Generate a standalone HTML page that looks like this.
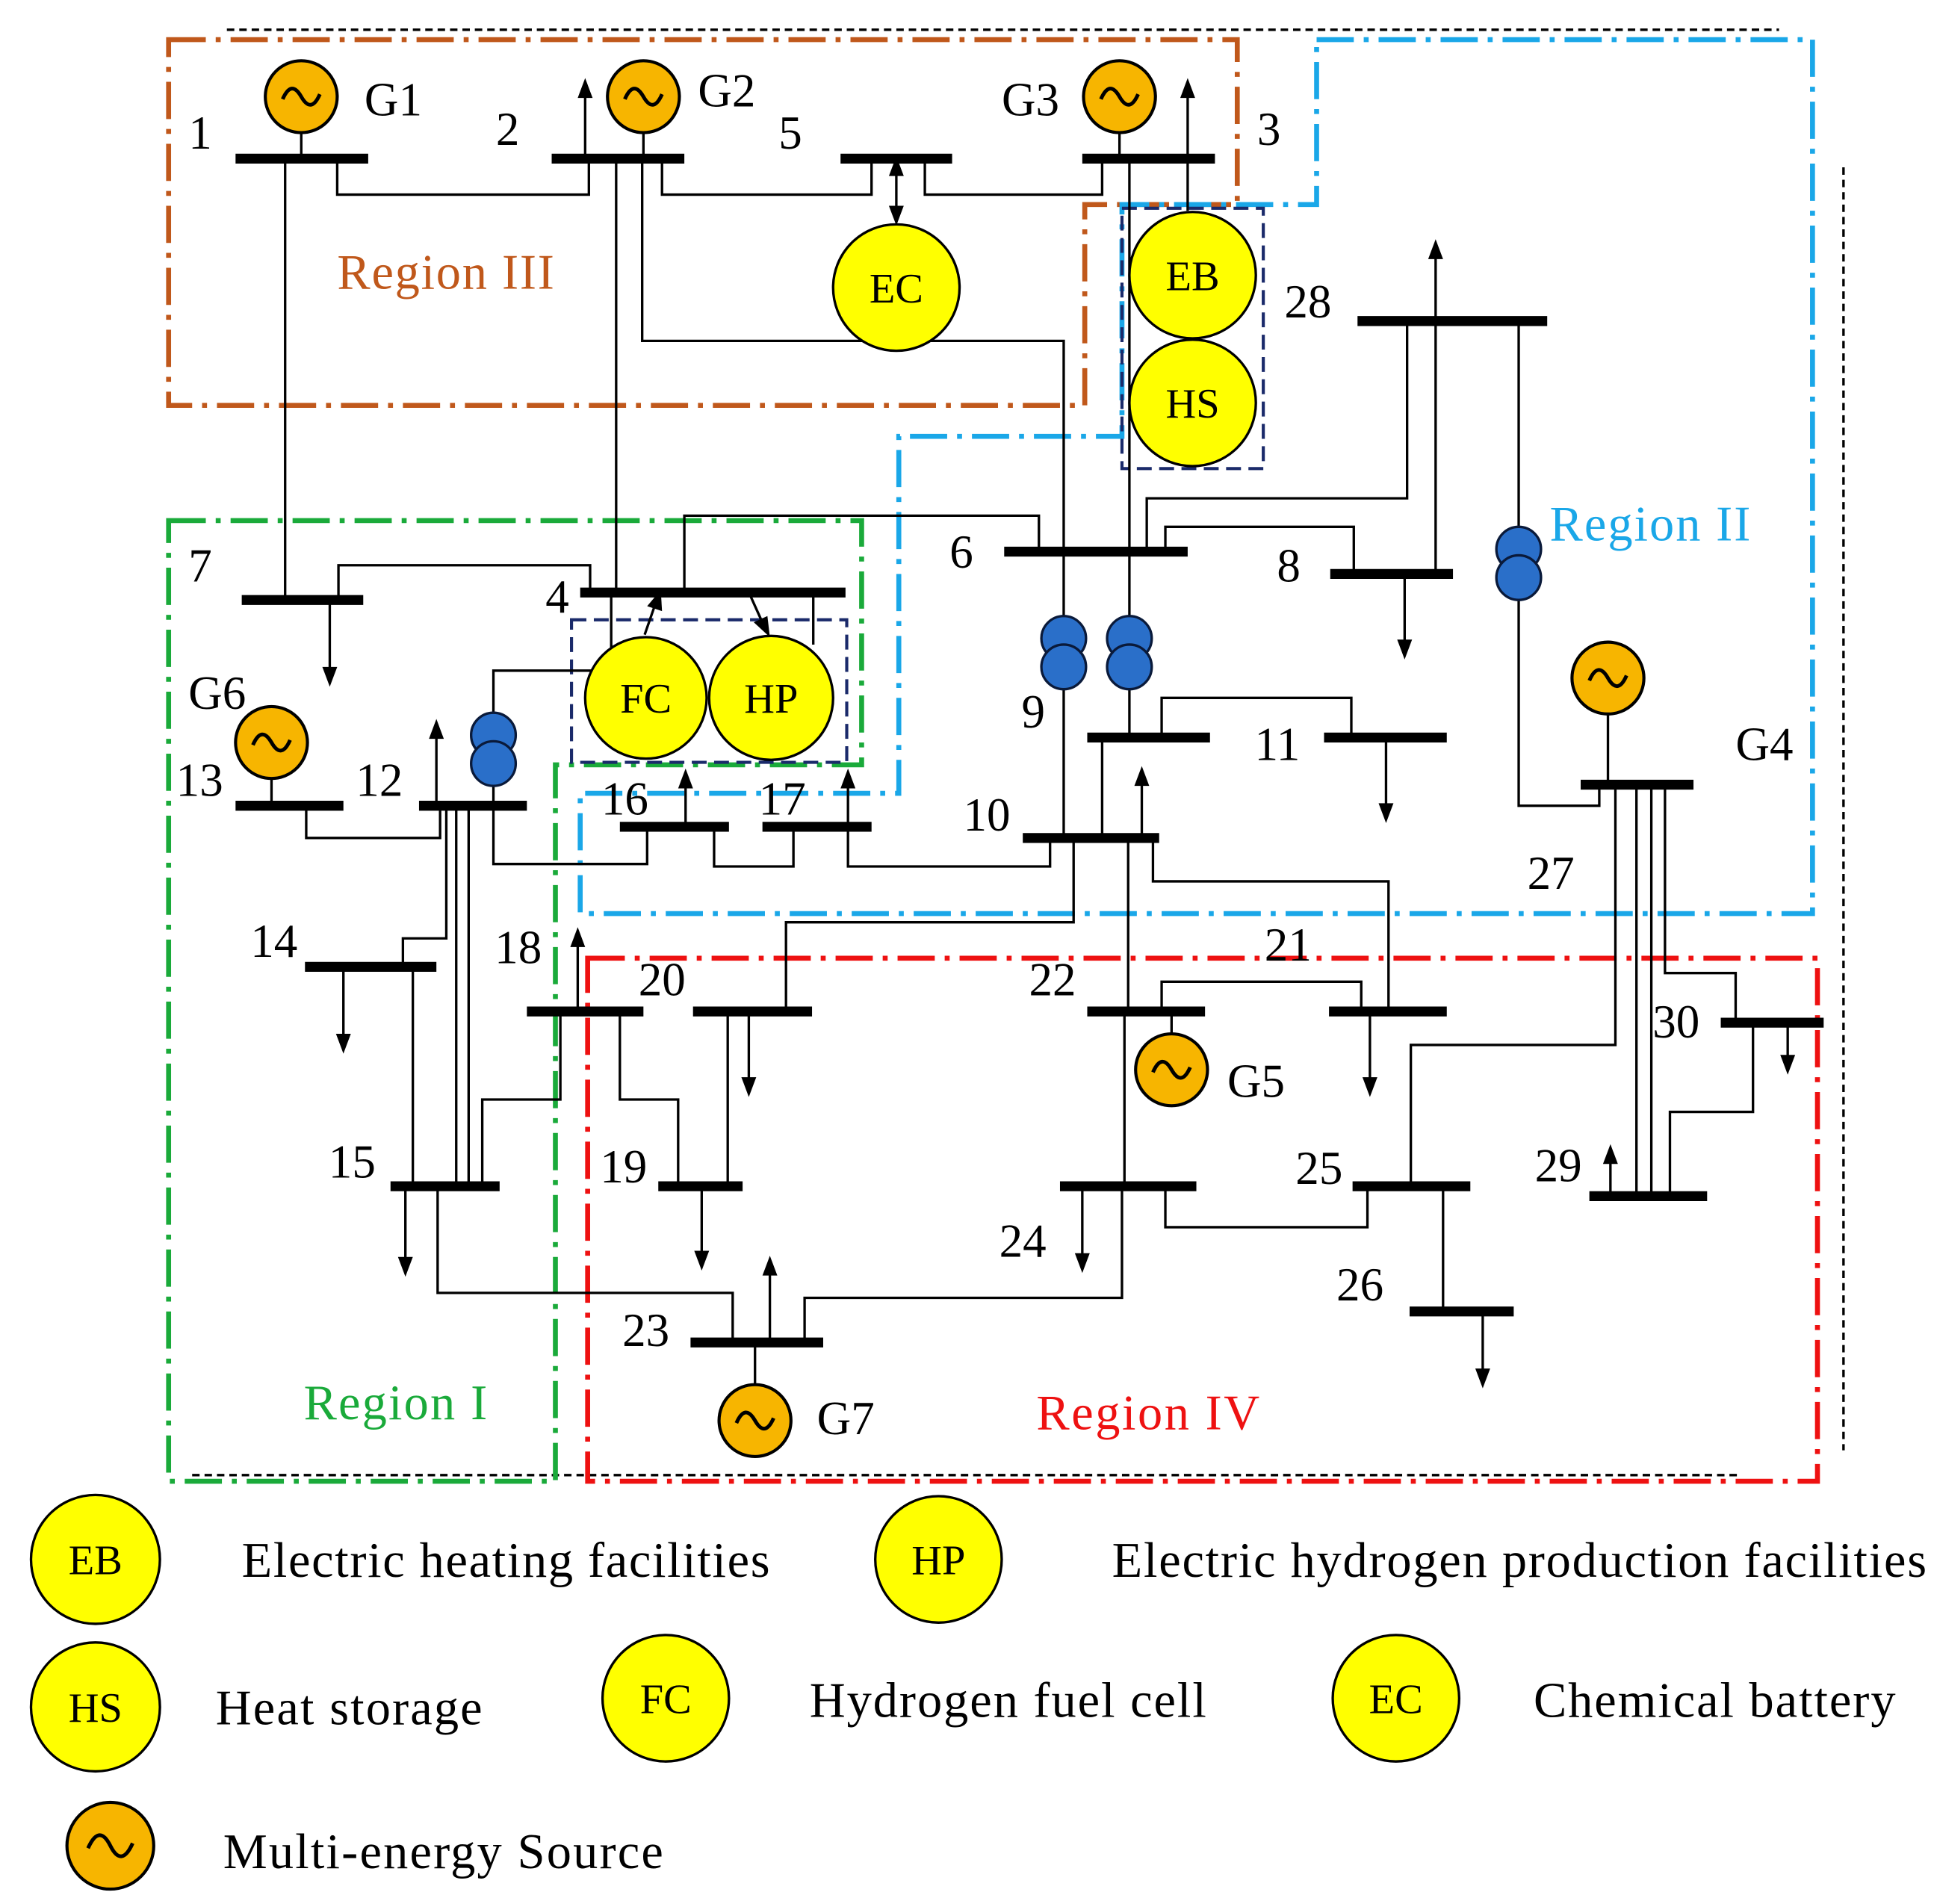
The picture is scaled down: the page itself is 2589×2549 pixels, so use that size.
<!DOCTYPE html>
<html><head><meta charset="utf-8"><style>html,body{margin:0;padding:0;background:#fff}svg{display:block}</style></head>
<body>
<svg width="2589" height="2549" viewBox="0 0 1560 1536" preserveAspectRatio="none" xmlns="http://www.w3.org/2000/svg" font-family="Liberation Serif, serif">
<style>
.ln{stroke:#000;stroke-width:2;fill:none}
.bus{stroke:#000;stroke-width:8}
.lbl{font-size:38px;fill:#000}
</style>

<!-- outer thin black dashed -->
<g stroke="#000" stroke-width="2" stroke-dasharray="6,4" fill="none">
<path d="M183,24 H1435"/><path d="M1487,135 V1170"/><path d="M155,1190 H1405"/>
</g>
<!-- regions -->
<g fill="none" stroke-width="4" stroke-dasharray="30,8,4,8">
<path d="M136,32 H998 V165 H875 V327 H136 Z" stroke="#c0581b"/>
<path d="M1062,32 H1462 V737 H468 V640 H725 V352 H905 V165 H1062 Z" stroke="#1aa7e8"/>
<path d="M136,420 H695 V617 H448 V1195 H136 Z" stroke="#1aaa3a"/>
<path d="M474,773 H1466 V1195 H474 Z" stroke="#ee1111"/>
</g>
<g fill="none" stroke="#1a2a6a" stroke-width="2.5" stroke-dasharray="12,6">
<rect x="905" y="168" width="114" height="210"/>
<rect x="461" y="500" width="222" height="115"/>
</g>

<!-- connection lines -->
<g class="ln">
<path d="M272,128 V157 H475 V128"/>
<path d="M230,128 V484"/>
<path d="M497,128 V478"/>
<path d="M518,128 V275 H858 V676"/>
<path d="M534,128 V157 H703 V128"/>
<path d="M746,128 V157 H889 V128"/>
<path d="M911,128 V595"/>
<path d="M925,445 V402 H1135 V259"/>
<path d="M1225,259 V650 H1290 V633"/>
<path d="M940,445 V425 H1092 V463"/>
<path d="M552,478 V416 H838 V445"/>
<path d="M273,484 V456 H476 V478"/>
<path d="M656,478 V520"/>
<path d="M398,650 V541 H493 V478"/>
<path d="M247,650 V676 H355 V650"/>
<path d="M360,650 V757 H325 V780"/>
<path d="M368,650 V957"/><path d="M378,650 V957"/>
<path d="M398,650 V697 H522 V667"/>
<path d="M576,667 V699 H640 V667"/>
<path d="M684,667 V699 H847 V676"/>
<path d="M333,780 V957"/>
<path d="M389,957 V887 H452 V816"/>
<path d="M353,957 V1043 H591 V1083"/>
<path d="M500,816 V887 H547 V957"/>
<path d="M587,816 V957"/>
<path d="M634,816 V744 H866 V676"/>
<path d="M889,595 V676"/>
<path d="M937,595 V563 H1090 V595"/>
<path d="M910,676 V816"/>
<path d="M930,676 V711 H1120 V816"/>
<path d="M937,816 V792 H1098 V816"/>
<path d="M945,816 V835"/>
<path d="M907,816 V957"/>
<path d="M905,957 V1047 H649 V1083"/>
<path d="M940,957 V990 H1103 V957"/>
<path d="M1138,957 V843 H1303 V633"/>
<path d="M1164,957 V1058"/>
<path d="M1320,633 V965"/><path d="M1332,633 V965"/>
<path d="M1343,633 V785 H1400 V825"/>
<path d="M1414,825 V897 H1347 V965"/>
<path d="M609,1083 V1118"/>
<path d="M1297,576 V633"/>
<path d="M243,107 V128"/><path d="M519,107 V128"/><path d="M903,107 V128"/>
<path d="M219,628 V650"/>
<!-- arrow shafts down -->
<path d="M266,484 V540"/><path d="M1133,463 V518"/><path d="M1118,595 V650"/>
<path d="M277,780 V836"/><path d="M327,957 V1016"/><path d="M566,957 V1011"/>
<path d="M604,816 V871"/><path d="M1105,816 V871"/><path d="M873,957 V1013"/>
<path d="M1196,1058 V1106"/><path d="M1442,825 V853"/>
<!-- arrow shafts up -->
<path d="M472,77 V128"/><path d="M958,77 V170"/><path d="M1158,207 V463"/>
<path d="M352,594 V650"/><path d="M553,634 V667"/><path d="M684,634 V667"/>
<path d="M921,632 V676"/><path d="M466,762 V816"/><path d="M1299,937 V965"/>
<path d="M621,1027 V1083"/>
<path d="M723,140 V168"/>
<path d="M520,512 L528,489"/><path d="M605,480 L614,500"/>
</g>
<g fill="#000">
<!-- down heads -->
<polygon points="260,538 272,538 266,554"/>
<polygon points="1127,516 1139,516 1133,532"/>
<polygon points="1112,648 1124,648 1118,664"/>
<polygon points="271,834 283,834 277,850"/>
<polygon points="321,1014 333,1014 327,1030"/>
<polygon points="560,1009 572,1009 566,1025"/>
<polygon points="598,869 610,869 604,885"/>
<polygon points="1099,869 1111,869 1105,885"/>
<polygon points="867,1011 879,1011 873,1027"/>
<polygon points="1190,1104 1202,1104 1196,1120"/>
<polygon points="1436,851 1448,851 1442,867"/>
<!-- up heads -->
<polygon points="466,79 478,79 472,63"/>
<polygon points="952,79 964,79 958,63"/>
<polygon points="1152,209 1164,209 1158,193"/>
<polygon points="346,596 358,596 352,580"/>
<polygon points="547,636 559,636 553,620"/>
<polygon points="678,636 690,636 684,620"/>
<polygon points="915,634 927,634 921,618"/>
<polygon points="460,764 472,764 466,748"/>
<polygon points="1293,939 1305,939 1299,923"/>
<polygon points="615,1029 627,1029 621,1013"/>
<polygon points="717,142 729,142 723,126"/>
<polygon points="717,166 729,166 723,182"/>
<polygon points="522,489 534,493 533,476"/>
<polygon points="608,502 619,497 621,514"/>
</g>

<!-- buses -->
<g class="bus">
<path d="M190,128H297"/><path d="M445,128H552"/><path d="M678,128H768"/><path d="M873,128H980"/>
<path d="M1095,259H1248"/><path d="M810,445H958"/><path d="M1073,463H1172"/><path d="M195,484H293"/>
<path d="M468,478H682"/><path d="M190,650H277"/><path d="M338,650H425"/><path d="M500,667H588"/>
<path d="M615,667H703"/><path d="M1068,595H1167"/><path d="M877,595H976"/><path d="M825,676H935"/>
<path d="M1275,633H1366"/><path d="M246,780H352"/><path d="M425,816H519"/><path d="M559,816H655"/>
<path d="M877,816H972"/><path d="M1072,816H1167"/><path d="M1388,825H1471"/><path d="M315,957H403"/>
<path d="M531,957H599"/><path d="M855,957H965"/><path d="M1091,957H1186"/><path d="M1282,965H1377"/>
<path d="M1137,1058H1221"/><path d="M557,1083H664"/>
</g>

<!-- transformers -->
<g fill="#2a6fc9" stroke="#0a1a3a" stroke-width="2">
<circle cx="858" cy="515" r="18"/><circle cx="858" cy="538" r="18"/>
<circle cx="911" cy="515" r="18"/><circle cx="911" cy="538" r="18"/>
<circle cx="1225" cy="443" r="18"/><circle cx="1225" cy="466" r="18"/>
<circle cx="398" cy="593" r="18"/><circle cx="398" cy="616" r="18"/>
</g>

<!-- generators -->
<g fill="#f7b500" stroke="#000" stroke-width="2.5">
<circle cx="243" cy="78" r="29"/><circle cx="519" cy="78" r="29"/><circle cx="903" cy="78" r="29"/>
<circle cx="219" cy="599" r="29"/><circle cx="1297" cy="547" r="29"/><circle cx="945" cy="863" r="29"/>
<circle cx="609" cy="1146" r="29"/><circle cx="89" cy="1489" r="35"/>
</g>
<g fill="none" stroke="#000" stroke-width="3">
<path d="M228,80 q7,-16 15,-2 q8,14 15,-2"/>
<path d="M504,80 q7,-16 15,-2 q8,14 15,-2"/>
<path d="M888,80 q7,-16 15,-2 q8,14 15,-2"/>
<path d="M204,601 q7,-16 15,-2 q8,14 15,-2"/>
<path d="M1282,549 q7,-16 15,-2 q8,14 15,-2"/>
<path d="M930,865 q7,-16 15,-2 q8,14 15,-2"/>
<path d="M594,1148 q7,-16 15,-2 q8,14 15,-2"/>
<path d="M71,1491 q9,-20 18,-2 q9,18 18,-2"/>
</g>

<!-- yellow facilities -->
<g fill="#ffff00" stroke="#000" stroke-width="2">
<circle cx="723" cy="232" r="51"/><circle cx="962" cy="222" r="51"/><circle cx="962" cy="325" r="51"/>
<circle cx="521" cy="563" r="49"/><circle cx="622" cy="563" r="50"/>
<circle cx="77" cy="1258" r="52"/><circle cx="757" cy="1258" r="51"/><circle cx="77" cy="1377" r="52"/>
<circle cx="537" cy="1370" r="51"/><circle cx="1126" cy="1370" r="51"/>
</g>
<g font-size="34" text-anchor="middle" fill="#000">
<text x="723" y="244">EC</text><text x="962" y="234">EB</text><text x="962" y="337">HS</text>
<text x="521" y="575">FC</text><text x="622" y="575">HP</text>
<text x="77" y="1270">EB</text><text x="757" y="1270">HP</text><text x="77" y="1389">HS</text>
<text x="537" y="1382">FC</text><text x="1126" y="1382">EC</text>
</g>

<!-- labels -->
<g class="lbl">
<text x="152" y="120">1</text><text x="400" y="117">2</text><text x="628" y="120">5</text><text x="1014" y="117">3</text>
<text x="294" y="93">G1</text><text x="563" y="86">G2</text><text x="808" y="93">G3</text>
<text x="1036" y="256">28</text><text x="766" y="458">6</text><text x="1030" y="469">8</text>
<text x="152" y="469">7</text><text x="440" y="494">4</text><text x="152" y="572">G6</text>
<text x="142" y="642">13</text><text x="287" y="642">12</text><text x="485" y="657">16</text><text x="612" y="657">17</text>
<text x="824" y="587">9</text><text x="1012" y="613">11</text><text x="777" y="670">10</text>
<text x="1400" y="613">G4</text><text x="1232" y="717">27</text>
<text x="202" y="772">14</text><text x="399" y="777">18</text><text x="515" y="803">20</text>
<text x="830" y="803">22</text><text x="1020" y="775">21</text><text x="1333" y="837">30</text>
<text x="990" y="885">G5</text><text x="265" y="950">15</text><text x="484" y="954">19</text>
<text x="806" y="1014">24</text><text x="1045" y="955">25</text><text x="1238" y="953">29</text>
<text x="1078" y="1049">26</text><text x="502" y="1086">23</text><text x="659" y="1157">G7</text>
</g>
<g font-size="40">
<text x="272" y="233" fill="#c0581b" textLength="175">Region III</text>
<text x="1250" y="436" fill="#1aa7e8" textLength="162">Region II</text>
<text x="245" y="1145" fill="#1aaa3a" textLength="148">Region I</text>
<text x="836" y="1153" fill="#ee1111" textLength="180">Region IV</text>
</g>
<g font-size="40" fill="#000">
<text x="195" y="1272" textLength="426">Electric heating facilities</text>
<text x="897" y="1272" textLength="657">Electric hydrogen production facilities</text>
<text x="174" y="1391" textLength="215">Heat storage</text>
<text x="653" y="1385" textLength="320">Hydrogen fuel cell</text>
<text x="1237" y="1385" textLength="292">Chemical battery</text>
<text x="180" y="1507" textLength="355">Multi-energy Source</text>
</g>
</svg>
</body></html>
